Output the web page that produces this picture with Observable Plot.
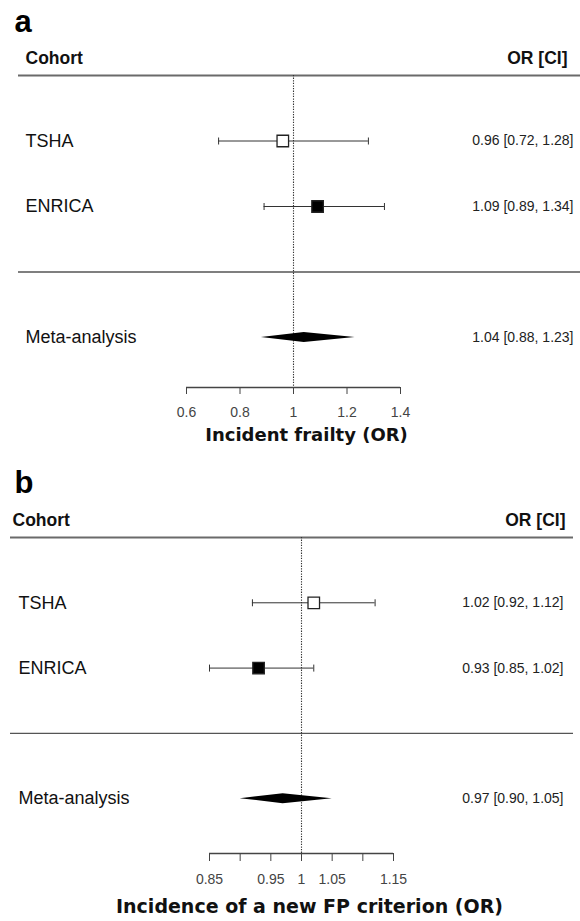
<!DOCTYPE html>
<html><head><meta charset="utf-8">
<script src="https://cdn.jsdelivr.net/npm/d3@7"></script>
<script src="https://cdn.jsdelivr.net/npm/@observablehq/plot@0.6"></script>
<style>
body{margin:0;background:#fff;}
#chart{width:580px;}
#chart svg{display:block;}
</style></head><body><div id="chart"></div>
<script>
// ---------- data ----------
const cohorts = ["TSHA", "ENRICA"];
const markerFilled = [false, true];
const metaLabel = "Meta-analysis";

const aLetter = "a";
const aOR = [0.96, 1.09];
const aLo = [0.72, 0.89];
const aHi = [1.28, 1.34];
const aMeta = [1.04, 0.88, 1.23]; // OR, lower, upper
const aTicks = [0.6, 0.8, 1, 1.2, 1.4];
const aTickLabels = ["0.6", "0.8", "1", "1.2", "1.4"];
const aTitle = "Incident frailty (OR)";

const bLetter = "b";
const bOR = [1.02, 0.93];
const bLo = [0.92, 0.85];
const bHi = [1.12, 1.02];
const bMeta = [0.97, 0.90, 1.05];
const bTicks = [0.85, 0.9, 0.95, 1, 1.05, 1.1, 1.15];
const bTickLabels = ["0.85", "", "0.95", "1", "1.05", "", "1.15"];
const bTitle = "Incidence of a new FP criterion (OR)";

const headerLeft = "Cohort";
const headerRight = "OR [CI]";

// ---------- helpers ----------
const ARIAL = "'Liberation Sans',Arial,sans-serif";
const GEOM = "'DejaVu Sans',sans-serif";
const fmt = v => v.toFixed(2);

const capSymbol = {
  draw(ctx, size) { const h = Math.sqrt(size / Math.PI); ctx.moveTo(0, -h); ctx.lineTo(0, h); }
};

function panel(cfg) {
  const {letter, or, lo, hi, meta, ticks, tickLabels, title, L} = cfg;
  const studies = cohorts.map((c, i) => ({
    name: c, row: i + 1, or: or[i], lo: lo[i], hi: hi[i], filled: markerFilled[i],
    ci: `${fmt(or[i])} [${fmt(lo[i])}, ${fmt(hi[i])}]`
  }));
  const metaRow = cohorts.length + 2;
  const sepRow = cohorts.length + 1;
  const rows = [...studies, {name: metaLabel, row: metaRow,
    ci: `${fmt(meta[0])} [${fmt(meta[1])}, ${fmt(meta[2])}]`}];
  const pxPerRow = (L.height - L.marginBottom - L.marginTop) / L.axisRow;
  const hh = L.diamondHalf / pxPerRow;
  const diamond = [
    {x: meta[1], y1: metaRow, y2: metaRow},
    {x: meta[0], y1: metaRow - hh, y2: metaRow + hh},
    {x: meta[2], y1: metaRow, y2: metaRow}
  ];
  return Plot.plot({
    width: 580,
    height: L.height,
    marginTop: L.marginTop,
    marginBottom: L.marginBottom,
    marginLeft: L.marginLeft,
    marginRight: L.marginRight,
    x: {domain: [ticks[0], ticks[ticks.length - 1]]},
    y: {domain: [0, L.axisRow], reverse: true, axis: null},
    style: {background: "white", overflow: "visible"},
    marks: [
      // header rule and separator rule
      Plot.ruleY([0], {stroke: "#6a6a6a", strokeWidth: 2, insetLeft: L.lineLeft, insetRight: L.lineRight}),
      Plot.ruleY([sepRow], {stroke: "#555", strokeWidth: 1.3, insetLeft: L.lineLeft, insetRight: L.lineRight}),
      // reference line at OR = 1
      Plot.ruleX([1], {stroke: "#333", strokeWidth: 1.1, strokeDasharray: "1.3,1.3"}),
      // confidence intervals
      Plot.ruleY(studies, {y: "row", x1: "lo", x2: "hi", stroke: "#333", strokeWidth: 1}),
      Plot.dot(studies, {x: "lo", y: "row", symbol: capSymbol, r: 3.5, stroke: "#333", fill: "none", strokeWidth: 1}),
      Plot.dot(studies, {x: "hi", y: "row", symbol: capSymbol, r: 3.5, stroke: "#333", fill: "none", strokeWidth: 1}),
      // point estimates
      Plot.dot(studies, {x: "or", y: "row", symbol: "square", r: 6.5,
        fill: d => d.filled ? "#000" : "#fff", stroke: "#222", strokeWidth: 1.3}),
      // pooled diamond
      Plot.areaY(diamond, {x: "x", y1: "y1", y2: "y2", fill: "#000", curve: "linear"}),
      // axis
      Plot.ruleY([L.axisRow], {stroke: "#444", strokeWidth: 1.3}),
      Plot.axisX({ticks, tickFormat: d => tickLabels[ticks.indexOf(d)], tickSize: L.tickSize,
        tickPadding: L.tickPadding, fontSize: 14, fontFamily: ARIAL, fill: "#444", stroke: "#444", label: null}),
      Plot.text([title], {frameAnchor: "bottom", dx: L.titleDx, dy: L.titleDy, fontSize: L.titleSize,
        fontWeight: "bold", fontFamily: GEOM, fill: "#111"}),
      // row labels
      Plot.text(rows, {y: "row", text: "name", frameAnchor: "left", textAnchor: "start",
        dx: L.labelDx, fontSize: 18, fontFamily: ARIAL, fill: "#111"}),
      Plot.text(rows, {y: "row", text: "ci", frameAnchor: "right", textAnchor: "end",
        dx: L.valueDx, fontSize: 14, fontFamily: ARIAL, fill: "#222"}),
      // header text
      Plot.text([headerLeft], {y: 0, frameAnchor: "left", textAnchor: "start", lineAnchor: "bottom",
        dx: L.headDx, dy: -12, fontSize: 17.5, fontWeight: "bold", fontFamily: ARIAL, fill: "#111"}),
      Plot.text([headerRight], {y: 0, frameAnchor: "right", textAnchor: "end", lineAnchor: "bottom",
        dx: L.headRightDx, dy: -12, fontSize: 17.5, fontWeight: "bold", fontFamily: ARIAL, fill: "#111"}),
      // panel letter
      Plot.text([letter], {y: 0, frameAnchor: "left", textAnchor: "start", lineAnchor: "bottom",
        dx: L.letterDx, dy: L.letterDy, fontSize: 31, fontWeight: "bold", fontFamily: ARIAL, fill: "#000"})
    ]
  });
}

const aLayout = {height: 463, marginTop: 75, marginBottom: 76, marginLeft: 186, marginRight: 180,
  axisRow: 4.763, diamondHalf: 5, tickSize: 7, tickPadding: 13,
  lineLeft: -168, lineRight: -180, labelDx: -161, valueDx: 173, headDx: -161, headRightDx: 167,
  letterDx: -172, letterDy: -44, titleDx: 13, titleDy: 53, titleSize: 18};
const bLayout = {height: 458, marginTop: 74, marginBottom: 68, marginLeft: 209, marginRight: 187,
  axisRow: 4.84, diamondHalf: 5, tickSize: 8, tickPadding: 13,
  lineLeft: -199, lineRight: -180, labelDx: -191, valueDx: 170, headDx: -197, headRightDx: 172,
  letterDx: -195, letterDy: -45, titleDx: 8, titleDy: 59, titleSize: 19};

const chart = document.getElementById("chart");
chart.append(panel({letter: aLetter, or: aOR, lo: aLo, hi: aHi, meta: aMeta, ticks: aTicks,
  tickLabels: aTickLabels, title: aTitle, L: aLayout}));
chart.append(panel({letter: bLetter, or: bOR, lo: bLo, hi: bHi, meta: bMeta, ticks: bTicks,
  tickLabels: bTickLabels, title: bTitle, L: bLayout}));
</script>
</body></html>
